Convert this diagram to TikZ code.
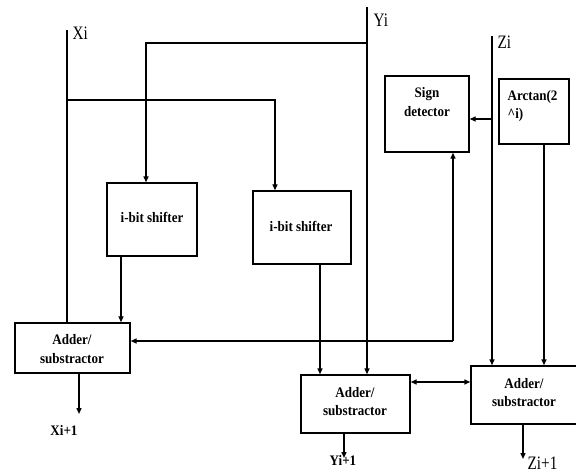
\documentclass[tikz,border=0pt]{standalone}
\usepackage{fontspec}
\usepackage{graphicx}
\setmainfont{Liberation Serif}
\usetikzlibrary{arrows.meta}
\newcommand\sqz[1]{\scalebox{0.9}[1]{#1}}
\newcommand\sqr[1]{\scalebox{0.8}[1]{#1}}
\begin{document}
\begin{tikzpicture}[x=1pt,y=-1pt,
  line width=1.4pt,
  arr/.style={-{Triangle[length=6pt,width=5pt]}},
  darr/.style={{Triangle[length=6pt,width=5pt]}-{Triangle[length=6pt,width=5pt]}},
  blk/.style={draw,rectangle,inner sep=0pt},
  btxt/.style={font=\fontsize{14.5}{18.5}\selectfont\bfseries,align=center,inner sep=0pt},
  lab/.style={font=\fontsize{19}{20}\selectfont,inner sep=0pt,anchor=west}]
\useasboundingbox (0,0) rectangle (576,473);
% boxes
\node[blk,minimum width=90pt,minimum height=73pt] (sh1) at (152,219.5) {};
\node[btxt] (sh1t) at (152,217) {\sqz{i-bit shifter}};
\node[blk,minimum width=98pt,minimum height=73pt] (sh2) at (302,227.5) {};
\node[btxt] (sh2t) at (301,226) {\sqz{i-bit shifter}};
\node[blk,minimum width=84pt,minimum height=76pt] (sign) at (427,114) {};
\node[btxt] (signt) at (427,102) {\sqz{Sign}\\\sqz{detector}};
\node[blk,minimum width=70pt,minimum height=65pt] (arc) at (534,111.5) {};
\node[btxt,align=left,anchor=west] (arct) at (507,106) {\sqz{Arctan(2}\\\sqz{\textasciicircum i)}};
\node[blk,minimum width=115pt,minimum height=50pt] (addx) at (72.5,348) {};
\node[btxt] (addxt) at (72,349) {\sqz{Adder/}\\\sqz{substractor}};
\node[blk,minimum width=109pt,minimum height=58pt] (addy) at (355.5,404) {};
\node[btxt] (addyt) at (355,401.5) {\sqz{Adder/}\\\sqz{substractor}};
\node[blk,minimum width=109pt,minimum height=58pt] (addz) at (525.5,395) {};
\node[btxt] (addzt) at (524,392.5) {\sqz{Adder/}\\\sqz{substractor}};
% input labels and tops
\coordinate (xtop) at (67,30);
\coordinate (ytop) at (367,7);
\coordinate (ztop) at (492,36);
\node[lab] (xl) at (72,33.5) {\sqr{Xi}};
\node[lab] (yl) at (373,20) {\sqr{Yi}};
\node[lab] (zl) at (497,42) {\sqr{Zi}};
% output labels
\coordinate (xo) at (79,414);
\coordinate (yo) at (344,458);
\coordinate (zo) at (523,459);
\node[btxt] (xol) at (64,430) {\sqz{Xi+1}};
\node[btxt] (yol) at (343,460) {\sqz{Yi+1}};
\node[lab] (zol) at (527,463) {\sqr{Zi+1}};
% branch points
\coordinate (ybr) at (367,43);
\coordinate (xbr) at (67,100);
\coordinate (zbr) at (492,119);
\coordinate (fb) at (453,341);
% connectors
\draw (xtop) -- (xtop |- addx.north);
\draw[arr] (ytop) -- (ytop |- addy.north);
\draw[arr] (ztop) -- (ztop |- addz.north);
\draw[arr] (ybr) -| (146,0 |- sh1.north);
\draw[arr] (xbr) -| (275,0 |- sh2.north);
\draw[arr] (zbr) -- (zbr -| sign.east);
\draw[arr] (544,0 |- arc.south) -- (544,0 |- addz.north);
\draw[arr] (fb) -- (fb |- sign.south);
\draw[arr] (fb) -- (fb -| addx.east);
\draw[arr] (121,0 |- sh1.south) -- (121,0 |- addx.north);
\draw[arr] (320,0 |- sh2.south) -- (320,0 |- addy.north);
\draw[arr] (xo |- addx.south) -- (xo);
\draw[arr] (yo |- addy.south) -- (yo);
\draw[arr] (zo |- addz.south) -- (zo);
\draw[darr] (addy.east |- 0,382) -- (addz.west |- 0,382);
\end{tikzpicture}
\end{document}
